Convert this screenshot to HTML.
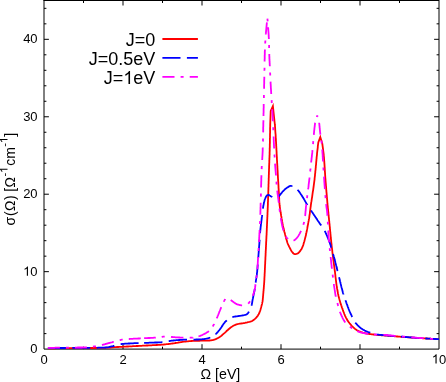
<!DOCTYPE html>
<html><head><meta charset="utf-8"><title>plot</title>
<style>
html,body{margin:0;padding:0;background:#fff;}
body{width:446px;height:382px;overflow:hidden;font-family:"Liberation Sans",sans-serif;}
svg{display:block;will-change:transform;font-family:"Liberation Sans",sans-serif;}
.tk,.lg{filter:grayscale(1);}
.tk text{font-size:13px;fill:#000;}
.lg text{font-size:18px;fill:#000;}
.g1{fill:#000;stroke:none;}
.ax path{stroke:#000;stroke-width:1;fill:none;}
.cv path{fill:none;stroke-width:1.8;stroke-linejoin:miter;stroke-miterlimit:12;stroke-linecap:butt;}
</style></head><body>
<svg width="446" height="382" viewBox="0 0 446 382">
<rect width="446" height="382" fill="#fff"/>
<g class="ax">
<path d="M44.00 0V349.10H439.00V0"/>
<rect x="43.5" y="0" width="395.5" height="1" fill="#000" stroke="none"/>
<path d="M83.50 349.10V346.70M83.50 0.60V3.00M123.00 349.10V344.20M123.00 0.60V5.50M162.50 349.10V346.70M162.50 0.60V3.00M202.00 349.10V344.20M202.00 0.60V5.50M241.50 349.10V346.70M241.50 0.60V3.00M281.00 349.10V344.20M281.00 0.60V5.50M320.50 349.10V346.70M320.50 0.60V3.00M360.00 349.10V344.20M360.00 0.60V5.50M399.50 349.10V346.70M399.50 0.60V3.00M44.00 333.61H46.40M439.00 333.61H436.60M44.00 318.12H46.40M439.00 318.12H436.60M44.00 302.63H46.40M439.00 302.63H436.60M44.00 287.14H46.40M439.00 287.14H436.60M44.00 271.66H48.90M439.00 271.66H434.10M44.00 256.17H46.40M439.00 256.17H436.60M44.00 240.68H46.40M439.00 240.68H436.60M44.00 225.19H46.40M439.00 225.19H436.60M44.00 209.70H46.40M439.00 209.70H436.60M44.00 194.21H48.90M439.00 194.21H434.10M44.00 178.72H46.40M439.00 178.72H436.60M44.00 163.23H46.40M439.00 163.23H436.60M44.00 147.74H46.40M439.00 147.74H436.60M44.00 132.26H46.40M439.00 132.26H436.60M44.00 116.77H48.90M439.00 116.77H434.10M44.00 101.28H46.40M439.00 101.28H436.60M44.00 85.79H46.40M439.00 85.79H436.60M44.00 70.30H46.40M439.00 70.30H436.60M44.00 54.81H46.40M439.00 54.81H436.60M44.00 39.32H48.90M439.00 39.32H434.10M44.00 23.83H46.40M439.00 23.83H436.60M44.00 8.34H46.40M439.00 8.34H436.60"/>
</g>
<g class="tk">
<text x="44.00" y="363.6" text-anchor="middle">0</text>
<text x="123.00" y="363.6" text-anchor="middle">2</text>
<text x="202.00" y="363.6" text-anchor="middle">4</text>
<text x="281.00" y="363.6" text-anchor="middle">6</text>
<text x="360.00" y="363.6" text-anchor="middle">8</text>
<path class="g1" transform="translate(431.77 363.60) scale(0.00635 -0.00635)" d="M763 0H583V1147Q518 1085 412.5 1023Q307 961 223 930V1104Q374 1175 487 1276Q600 1377 647 1472H763Z"/>
<text x="439.00" y="363.6">0</text>
<text x="37.6" y="353.20" text-anchor="end">0</text>
<text x="37.6" y="198.31" text-anchor="end">20</text>
<text x="37.6" y="120.87" text-anchor="end">30</text>
<text x="37.6" y="43.42" text-anchor="end">40</text>
<path class="g1" transform="translate(23.13 275.76) scale(0.00635 -0.00635)" d="M763 0H583V1147Q518 1085 412.5 1023Q307 961 223 930V1104Q374 1175 487 1276Q600 1377 647 1472H763Z"/>
<text x="37.6" y="275.76" text-anchor="end">0</text>
<text x="200.5" y="378.5" style="font-size:14.2px">&#937; [eV]</text>
<g transform="translate(14.5 225.5) rotate(-90)">
<text x="0.00" y="0.00" style="font-size:14px">&#963;</text>
<text x="9.55" y="0.00" style="font-size:14px">(</text>
<text x="14.50" y="0.00" style="font-size:14px">&#937;</text>
<text x="25.60" y="0.00" style="font-size:14px">)</text>
<text x="33.65" y="0.00" style="font-size:14px">[</text>
<text x="38.00" y="0.00" style="font-size:14px">&#937;</text>
<text x="49.00" y="-7.00" style="font-size:11px">-</text>
<path class="g1" transform="translate(52.67 -7.00) scale(0.00537 -0.00537)" d="M763 0H583V1147Q518 1085 412.5 1023Q307 961 223 930V1104Q374 1175 487 1276Q600 1377 647 1472H763Z"/>
<text x="59.80" y="0.00" style="font-size:14px">cm</text>
<text x="78.70" y="-7.00" style="font-size:11px">-</text>
<path class="g1" transform="translate(82.37 -7.00) scale(0.00537 -0.00537)" d="M763 0H583V1147Q518 1085 412.5 1023Q307 961 223 930V1104Q374 1175 487 1276Q600 1377 647 1472H763Z"/>
<text x="88.70" y="0.00" style="font-size:14px">]</text>
</g>
</g>
<g class="lg">
<text x="155.4" y="45.9" text-anchor="end">J=0</text>
<text x="155.4" y="64.9" text-anchor="end">J=0.5eV</text>
<text x="155.4" y="83.9" text-anchor="end">eV</text><text x="123.35" y="83.9" text-anchor="end">J=</text><path class="g1" transform="translate(123.35 83.90) scale(0.00879 -0.00879)" d="M763 0H583V1147Q518 1085 412.5 1023Q307 961 223 930V1104Q374 1175 487 1276Q600 1377 647 1472H763Z"/>
</g>
<g class="cv">
<path stroke="#ff0000" d="M162.4 39H197.9"/>
<path stroke="#0000ff" d="M162.4 57.9H180.5M186.9 57.9H197.9"/>
<path stroke="#ff00ff" d="M162.4 76.9H174.5M180.6 76.9H183.6M189.7 76.9H197.9"/>
<path stroke="#ff0000" d="M47.9 348.3 48.6 348.3 49.3 348.3 50.1 348.3 50.9 348.3 51.7 348.3 52.4 348.3 53.1 348.3 53.9 348.3 54.7 348.3 55.5 348.3 56.2 348.2 57.0 348.2 57.7 348.2 58.5 348.2 59.2 348.2 60.0 348.2 60.8 348.2 61.6 348.2 62.5 348.2 63.3 348.2 64.2 348.2 65.0 348.2 65.9 348.2 66.6 348.2 67.3 348.2 68.0 348.2 68.7 348.2 69.4 348.2 70.2 348.2 70.9 348.2 71.6 348.2 72.3 348.2 73.1 348.1 73.8 348.1 74.5 348.1 75.2 348.1 76.0 348.1 76.7 348.1 77.4 348.1 78.2 348.1 78.9 348.1 79.6 348.1 80.3 348.1 81.0 348.1 81.8 348.1 82.5 348.1 83.2 348.1 84.0 348.1 84.9 348.1 85.8 348.1 86.6 348.1 87.4 348.0 88.3 348.0 89.1 348.0 89.9 348.0 90.7 348.0 91.4 348.0 92.2 348.0 92.9 348.0 93.7 348.0 94.4 348.0 95.2 348.0 96.0 348.0 96.8 347.9 97.5 347.9 98.2 347.9 99.0 347.9 99.7 347.9 100.6 347.9 101.5 347.9 102.4 347.9 103.2 347.8 103.9 347.8 104.6 347.8 105.5 347.8 106.3 347.7 107.0 347.7 107.8 347.7 108.6 347.6 109.3 347.6 110.1 347.5 110.8 347.5 111.6 347.4 112.3 347.3 113.1 347.3 113.9 347.2 114.6 347.2 115.4 347.1 116.2 347.1 116.9 347.0 117.7 347.0 118.4 347.0 119.2 346.9 119.9 346.9 120.7 346.8 121.4 346.8 122.2 346.8 123.0 346.7 123.7 346.7 124.5 346.7 125.2 346.6 126.0 346.6 126.7 346.5 127.5 346.5 128.2 346.5 129.0 346.4 129.7 346.4 130.5 346.3 131.2 346.3 132.0 346.3 132.8 346.2 133.5 346.2 134.3 346.2 135.0 346.1 135.8 346.1 136.5 346.0 137.2 346.0 138.0 346.0 138.7 345.9 139.5 345.9 140.2 345.9 141.0 345.8 141.7 345.8 142.5 345.7 143.2 345.7 144.0 345.7 144.7 345.6 145.5 345.6 146.2 345.5 147.0 345.5 147.8 345.5 148.5 345.4 149.3 345.4 150.1 345.3 150.8 345.3 151.6 345.3 152.4 345.2 153.2 345.2 154.0 345.1 154.8 345.1 155.5 345.1 156.3 345.0 157.1 345.0 157.8 344.9 158.6 344.9 159.3 344.9 160.0 344.8 160.8 344.8 161.6 344.7 162.4 344.6 163.2 344.6 164.0 344.5 164.9 344.4 165.7 344.3 166.5 344.2 167.3 344.2 168.0 344.1 168.8 344.0 169.5 343.9 170.2 343.8 170.9 343.7 171.6 343.6 172.3 343.5 173.2 343.4 174.0 343.3 174.7 343.2 175.5 343.0 176.3 342.9 177.1 342.8 177.8 342.7 178.6 342.5 179.3 342.4 180.0 342.3 180.7 342.2 181.4 342.1 182.2 341.9 182.9 341.8 183.6 341.7 184.4 341.6 185.1 341.6 185.9 341.5 186.6 341.4 187.4 341.3 188.2 341.3 188.9 341.2 189.7 341.1 190.4 341.1 191.2 341.0 191.9 341.0 192.7 340.9 193.5 340.9 194.2 340.9 195.0 340.8 195.8 340.8 196.6 340.8 197.3 340.8 198.1 340.8 198.9 340.8 199.6 340.8 200.4 340.7 201.1 340.7 201.9 340.7 202.6 340.7 203.4 340.7 204.2 340.7 205.0 340.6 205.8 340.6 206.6 340.6 207.4 340.6 208.1 340.6 208.9 340.5 209.7 340.5 210.5 340.4 211.2 340.3 212.0 340.2 212.7 340.1 213.5 339.9 214.3 339.6 215.0 339.4 215.7 339.1 216.3 338.9 217.0 338.5 217.7 338.2 218.4 337.8 219.0 337.4 219.7 337.0 220.3 336.6 220.9 336.1 221.5 335.7 222.0 335.2 222.6 334.7 223.2 334.1 223.8 333.6 224.4 333.1 225.0 332.6 225.5 332.1 226.1 331.6 226.6 331.0 227.2 330.5 227.8 330.0 228.3 329.5 228.9 329.0 229.5 328.5 230.1 328.0 230.7 327.5 231.4 327.1 232.0 326.6 232.6 326.2 233.3 325.8 233.9 325.5 234.6 325.2 235.3 324.9 235.9 324.6 236.6 324.4 237.3 324.2 238.1 324.0 238.9 323.8 239.7 323.7 240.4 323.6 241.1 323.5 241.9 323.4 242.7 323.3 243.4 323.2 244.2 323.1 245.0 322.9 245.7 322.7 246.5 322.6 247.3 322.4 248.0 322.2 248.8 322.0 249.6 321.8 250.3 321.6 251.0 321.4 251.8 321.1 252.5 320.8 253.2 320.3 253.9 319.9 254.4 319.4 255.0 318.9 255.5 318.4 256.0 317.9 256.5 317.3 257.0 316.7 257.5 316.1 257.9 315.5 258.3 314.8 258.7 314.2 259.0 313.5 259.4 312.8 259.6 312.1 259.9 311.4 260.2 310.6 260.4 310.0 260.6 309.2 260.8 308.5 261.0 307.8 261.2 307.0 261.4 306.3 261.6 305.5 261.8 304.7 262.0 304.0 262.2 303.2 262.3 302.4 262.5 301.7 262.6 301.0 262.7 300.2 262.8 299.5 262.8 298.8 262.9 298.1 263.0 297.3 263.0 296.6 263.1 295.8 263.2 295.0 263.2 294.2 263.3 293.4 263.4 292.7 263.4 291.9 263.5 291.2 263.6 290.4 263.6 289.7 263.7 288.9 263.8 288.1 263.8 287.3 263.9 286.6 263.9 285.8 264.0 285.0 264.1 284.3 264.1 283.5 264.2 282.8 264.2 282.0 264.3 281.2 264.3 280.5 264.4 279.6 264.4 278.8 264.4 278.1 264.5 277.3 264.5 276.5 264.6 275.8 264.6 275.0 264.6 274.2 264.7 273.4 264.7 272.7 264.8 271.9 264.8 271.1 264.8 270.3 264.9 269.6 264.9 268.9 264.9 268.1 265.0 267.4 265.0 266.6 265.0 265.8 265.1 265.0 265.1 264.2 265.2 263.4 265.2 262.6 265.2 261.8 265.3 261.0 265.3 260.2 265.4 259.3 265.4 258.5 265.4 257.7 265.5 256.8 265.5 256.0 265.6 255.2 265.6 254.4 265.6 253.6 265.7 252.8 265.7 252.0 265.7 251.2 265.8 250.5 265.8 249.7 265.9 248.9 265.9 248.2 265.9 247.4 266.0 246.7 266.0 245.9 266.0 245.2 266.1 244.4 266.1 243.7 266.1 242.9 266.2 242.1 266.2 241.4 266.3 240.6 266.3 239.9 266.3 239.1 266.4 238.3 266.4 237.6 266.4 236.8 266.5 236.1 266.5 235.3 266.6 234.6 266.6 233.8 266.6 233.1 266.7 232.3 266.7 231.6 266.7 230.8 266.8 230.1 266.8 229.3 266.8 228.6 266.9 227.8 266.9 227.1 266.9 226.3 267.0 225.6 267.0 224.8 267.0 224.1 267.1 223.3 267.1 222.6 267.1 221.9 267.2 221.1 267.2 220.4 267.2 219.7 267.3 219.0 267.3 218.2 267.3 217.5 267.4 216.8 267.4 216.1 267.4 215.4 267.5 214.7 267.5 213.9 267.5 213.2 267.5 212.5 267.6 211.8 267.6 211.1 267.6 210.3 267.7 209.6 267.7 208.8 267.7 208.1 267.8 207.3 267.8 206.5 267.8 205.8 267.9 205.0 267.9 204.2 267.9 203.4 267.9 202.5 268.0 201.7 268.0 200.9 268.0 200.1 268.1 199.2 268.1 198.5 268.1 197.8 268.1 197.1 268.2 196.3 268.2 195.6 268.2 194.8 268.2 194.0 268.3 193.3 268.3 192.5 268.3 191.7 268.3 190.9 268.4 190.1 268.4 189.3 268.4 188.5 268.4 187.7 268.5 186.9 268.5 186.1 268.5 185.2 268.5 184.4 268.6 183.6 268.6 182.8 268.6 182.0 268.6 181.2 268.7 180.5 268.7 179.7 268.7 178.9 268.7 178.1 268.8 177.4 268.8 176.6 268.8 175.9 268.8 175.1 268.9 174.4 268.9 173.7 268.9 172.9 268.9 172.1 269.0 171.3 269.0 170.5 269.0 169.6 269.0 168.9 269.1 168.2 269.1 167.5 269.1 166.6 269.1 165.8 269.2 165.0 269.2 164.2 269.2 163.5 269.3 162.8 269.3 162.0 269.3 161.3 269.3 160.5 269.4 159.7 269.4 158.9 269.4 158.1 269.5 157.3 269.5 156.4 269.5 155.6 269.6 154.9 269.6 154.2 269.6 153.5 269.6 152.7 269.6 152.0 269.7 151.2 269.7 150.3 269.7 149.6 269.7 148.9 269.7 148.1 269.8 147.4 269.8 146.6 269.8 145.8 269.8 145.0 269.8 144.1 269.9 143.3 269.9 142.4 269.9 141.5 269.9 140.8 269.9 140.1 269.9 139.4 269.9 138.7 270.0 138.0 270.0 137.3 270.0 136.4 270.0 135.6 270.0 134.7 270.0 133.9 270.1 133.0 270.1 132.2 270.1 131.5 270.1 130.7 270.1 130.0 270.1 129.3 270.1 128.5 270.1 127.7 270.2 127.0 270.2 126.2 270.2 125.5 270.2 125.0 270.7 111.0 272.9 106.2 274.9 125.0 275.0 125.7 275.0 126.5 275.1 127.3 275.1 128.1 275.2 128.9 275.2 129.7 275.3 130.6 275.3 131.3 275.4 132.0 275.4 132.7 275.5 133.6 275.6 134.4 275.6 135.2 275.7 135.9 275.7 136.6 275.7 137.3 275.8 138.1 275.9 139.0 275.9 139.7 275.9 140.4 276.0 141.1 276.0 141.9 276.1 142.7 276.1 143.6 276.2 144.3 276.2 145.0 276.2 145.8 276.3 146.5 276.3 147.4 276.4 148.2 276.4 148.9 276.4 149.6 276.5 150.3 276.5 151.1 276.6 151.8 276.6 152.6 276.6 153.4 276.7 154.2 276.7 155.0 276.8 155.8 276.8 156.6 276.9 157.4 276.9 158.2 276.9 159.0 277.0 159.8 277.0 160.6 277.1 161.3 277.1 162.0 277.1 162.7 277.2 163.4 277.2 164.2 277.3 164.9 277.3 165.7 277.4 166.4 277.4 167.2 277.4 168.0 277.5 168.7 277.5 169.5 277.6 170.3 277.6 171.0 277.7 171.8 277.7 172.6 277.7 173.3 277.8 174.1 277.8 174.9 277.9 175.6 277.9 176.4 277.9 177.1 278.0 177.9 278.0 178.6 278.1 179.4 278.1 180.2 278.2 181.0 278.2 181.8 278.3 182.6 278.3 183.4 278.4 184.2 278.4 185.0 278.5 185.8 278.5 186.6 278.5 187.4 278.6 188.2 278.6 188.9 278.7 189.7 278.7 190.4 278.8 191.2 278.8 191.9 278.9 192.7 278.9 193.5 279.0 194.3 279.0 195.0 279.0 195.8 279.1 196.5 279.1 197.4 279.2 198.2 279.2 198.9 279.2 199.6 279.2 200.4 279.3 201.2 279.3 202.0 279.4 202.8 279.5 203.6 279.5 204.3 279.6 205.1 279.7 206.0 279.8 206.7 279.9 207.5 280.0 208.2 280.1 209.0 280.2 209.8 280.4 210.6 280.5 211.4 280.6 212.2 280.7 213.0 280.9 213.8 281.0 214.5 281.1 215.3 281.2 216.0 281.4 216.7 281.5 217.5 281.6 218.3 281.7 219.0 281.9 219.9 282.0 220.7 282.1 221.4 282.3 222.1 282.4 222.9 282.5 223.6 282.7 224.4 282.8 225.2 283.0 226.0 283.2 226.8 283.3 227.6 283.5 228.3 283.7 229.1 283.9 229.8 284.1 230.5 284.2 231.2 284.4 231.9 284.6 232.6 284.8 233.3 285.0 234.1 285.2 234.9 285.4 235.6 285.6 236.4 285.8 237.1 286.0 237.8 286.1 238.5 286.3 239.2 286.6 239.9 286.8 240.6 287.0 241.3 287.2 242.0 287.4 242.7 287.7 243.5 288.0 244.2 288.3 244.9 288.7 245.6 289.0 246.4 289.4 247.1 289.8 247.8 290.1 248.6 290.5 249.2 290.8 249.9 291.2 250.5 291.6 251.2 292.0 251.8 292.5 252.5 293.0 253.0 293.5 253.5 294.2 253.9 294.8 254.2 295.5 254.2 296.3 254.0 297.1 253.7 297.8 253.4 298.4 253.0 299.0 252.5 299.4 251.9 299.9 251.3 300.4 250.7 300.8 250.1 301.2 249.4 301.7 248.7 302.0 248.0 302.3 247.3 302.6 246.6 302.9 245.9 303.2 245.1 303.4 244.4 303.6 243.7 303.8 243.0 304.0 242.3 304.3 241.5 304.5 240.7 304.7 239.9 304.9 239.1 305.1 238.3 305.3 237.5 305.5 236.7 305.7 236.0 305.9 235.3 306.0 234.6 306.2 233.8 306.3 233.0 306.5 232.3 306.7 231.5 306.8 230.7 307.0 229.9 307.1 229.1 307.3 228.4 307.4 227.6 307.5 226.8 307.7 226.1 307.8 225.4 308.0 224.6 308.1 223.8 308.2 223.1 308.4 222.2 308.5 221.4 308.7 220.7 308.8 219.9 308.9 219.2 309.1 218.5 309.2 217.8 309.3 217.0 309.4 216.1 309.5 215.4 309.6 214.7 309.8 213.9 309.8 213.2 309.9 212.5 310.0 211.7 310.1 211.0 310.2 210.3 310.3 209.5 310.4 208.7 310.5 207.9 310.6 207.2 310.7 206.5 310.8 205.7 310.9 204.9 311.0 204.2 311.1 203.5 311.2 202.7 311.3 202.0 311.5 201.2 311.6 200.4 311.7 199.6 311.8 198.9 311.9 198.1 312.1 197.3 312.2 196.4 312.3 195.6 312.4 194.9 312.5 194.2 312.6 193.4 312.7 192.7 312.8 192.0 312.9 191.2 313.1 190.5 313.2 189.7 313.3 189.0 313.4 188.2 313.5 187.5 313.6 186.7 313.7 186.0 313.8 185.2 313.9 184.4 314.0 183.7 314.1 182.9 314.2 182.2 314.3 181.4 314.4 180.7 314.5 179.9 314.6 179.2 314.6 178.4 314.7 177.7 314.8 176.9 314.9 176.1 315.0 175.4 315.0 174.6 315.1 173.9 315.2 173.1 315.3 172.4 315.3 171.6 315.4 170.9 315.5 170.2 315.6 169.4 315.6 168.7 315.7 168.0 315.8 167.2 315.8 166.4 315.9 165.7 316.0 164.9 316.1 164.2 316.1 163.5 316.2 162.7 316.2 162.0 316.3 161.3 316.4 160.6 316.4 159.8 316.5 159.1 316.6 158.3 316.6 157.6 316.7 156.8 316.8 156.0 316.9 155.3 317.0 154.5 317.0 153.7 317.1 152.9 317.2 152.0 317.3 151.1 317.4 150.4 317.5 149.7 317.6 148.9 317.7 148.0 317.8 147.2 317.8 146.4 317.9 145.6 318.0 144.9 318.1 144.1 318.2 143.4 318.3 142.6 318.3 142.4 320.3 137.1 322.3 143.6 322.4 144.4 322.5 145.1 322.6 145.9 322.7 146.6 322.8 147.4 322.9 148.2 323.0 148.9 323.1 149.7 323.2 150.6 323.3 151.4 323.4 152.2 323.5 152.9 323.6 153.6 323.7 154.4 323.7 155.2 323.8 156.0 323.9 156.8 324.0 157.6 324.0 158.4 324.1 159.1 324.1 159.9 324.2 160.7 324.3 161.6 324.3 162.3 324.4 163.0 324.4 163.7 324.5 164.5 324.5 165.2 324.6 166.0 324.6 166.8 324.7 167.5 324.7 168.3 324.8 169.1 324.8 169.9 324.9 170.7 324.9 171.5 325.0 172.3 325.0 173.1 325.1 173.9 325.1 174.7 325.2 175.5 325.2 176.3 325.3 177.1 325.3 177.9 325.4 178.7 325.5 179.5 325.5 180.3 325.6 181.0 325.6 181.7 325.7 182.5 325.8 183.2 325.8 184.0 325.9 184.7 325.9 185.5 326.0 186.2 326.1 187.0 326.1 187.8 326.2 188.5 326.2 189.3 326.3 190.1 326.4 190.9 326.4 191.6 326.5 192.4 326.6 193.2 326.6 193.9 326.7 194.7 326.8 195.5 326.8 196.2 326.9 197.0 327.0 197.7 327.0 198.5 327.1 199.2 327.2 200.0 327.2 200.7 327.3 201.5 327.3 202.2 327.4 202.9 327.5 203.6 327.5 204.3 327.6 205.2 327.7 206.0 327.8 206.8 327.8 207.6 327.9 208.4 328.0 209.1 328.1 209.9 328.1 210.7 328.2 211.4 328.3 212.2 328.4 212.9 328.4 213.7 328.5 214.4 328.6 215.2 328.7 215.9 328.7 216.6 328.8 217.4 328.9 218.1 329.0 218.8 329.0 219.5 329.1 220.3 329.2 221.0 329.3 221.7 329.3 222.5 329.4 223.2 329.5 223.9 329.6 224.7 329.6 225.4 329.7 226.1 329.8 226.9 329.9 227.6 329.9 228.4 330.0 229.1 330.1 229.9 330.1 230.6 330.2 231.3 330.3 232.1 330.4 232.8 330.4 233.5 330.5 234.3 330.6 235.0 330.6 235.7 330.7 236.5 330.8 237.2 330.9 237.9 330.9 238.7 331.0 239.4 331.1 240.2 331.2 240.9 331.2 241.7 331.3 242.4 331.4 243.2 331.5 244.0 331.6 244.7 331.6 245.5 331.7 246.3 331.8 247.0 331.9 247.8 332.0 248.5 332.1 249.2 332.2 250.0 332.3 250.7 332.3 251.5 332.4 252.3 332.5 253.1 332.6 253.9 332.7 254.6 332.8 255.4 332.9 256.2 333.0 257.0 333.1 257.8 333.2 258.6 333.3 259.4 333.4 260.2 333.5 261.0 333.6 261.7 333.7 262.5 333.8 263.3 333.9 264.0 334.0 264.7 334.1 265.5 334.2 266.2 334.3 266.9 334.4 267.7 334.5 268.5 334.6 269.3 334.7 270.0 334.8 270.8 334.9 271.5 335.0 272.2 335.1 273.1 335.2 273.9 335.3 274.7 335.4 275.5 335.4 276.2 335.5 277.0 335.6 277.7 335.7 278.4 335.8 279.2 335.9 280.0 336.0 280.8 336.1 281.6 336.2 282.4 336.3 283.2 336.4 284.1 336.5 284.8 336.6 285.6 336.8 286.4 336.9 287.1 337.0 287.9 337.1 288.7 337.3 289.5 337.4 290.2 337.5 291.0 337.7 291.7 337.8 292.4 337.9 293.2 338.1 293.9 338.2 294.6 338.4 295.3 338.5 296.0 338.7 296.7 338.9 297.4 339.1 298.2 339.3 298.9 339.5 299.7 339.7 300.4 339.9 301.1 340.1 301.8 340.3 302.5 340.5 303.2 340.7 303.9 341.0 304.6 341.2 305.3 341.5 306.0 341.7 306.7 341.9 307.5 342.2 308.2 342.5 308.9 342.7 309.6 343.0 310.3 343.2 311.1 343.5 311.8 343.8 312.5 344.1 313.3 344.3 314.0 344.6 314.7 344.9 315.4 345.2 316.1 345.5 316.7 345.8 317.4 346.2 318.1 346.6 318.8 347.0 319.5 347.4 320.2 347.8 320.9 348.3 321.5 348.7 322.1 349.2 322.7 349.6 323.3 350.1 323.9 350.5 324.4 351.0 325.0 351.5 325.5 352.0 326.1 352.6 326.6 353.1 327.2 353.7 327.7 354.2 328.2 354.8 328.7 355.4 329.1 356.0 329.6 356.6 330.0 357.3 330.4 358.0 330.7 358.6 331.1 359.2 331.3 359.9 331.6 360.6 331.9 361.3 332.1 362.0 332.3 362.7 332.6 363.5 332.8 364.2 333.0 365.0 333.1 365.8 333.3 366.5 333.5 367.2 333.6 367.9 333.8 368.7 333.9 369.4 334.0 370.2 334.1 370.9 334.2 371.7 334.3 372.5 334.4 373.3 334.5 374.0 334.5 374.8 334.6 375.6 334.7 376.3 334.8 377.1 334.9 377.8 334.9 378.6 335.0 379.3 335.1 380.0 335.1 380.7 335.2 381.4 335.3 382.2 335.3 382.9 335.4 383.7 335.4 384.4 335.5 385.2 335.6 386.0 335.6 386.8 335.7 387.5 335.7 388.4 335.8 389.2 335.9 390.0 335.9 390.8 336.0 391.6 336.1 392.3 336.1 393.1 336.2 393.8 336.2 394.5 336.3 395.3 336.4 396.1 336.4 396.9 336.5 397.8 336.5 398.5 336.6 399.2 336.6 400.0 336.7 400.8 336.8 401.5 336.8 402.4 336.9 403.2 336.9 403.9 337.0 404.6 337.0 405.4 337.1 406.1 337.1 406.9 337.2 407.7 337.3 408.4 337.3 409.2 337.4 410.0 337.4 410.8 337.5 411.6 337.5 412.4 337.6 413.2 337.6 414.0 337.7 414.8 337.8 415.6 337.8 416.4 337.9 417.1 337.9 417.9 338.0 418.7 338.0 419.4 338.1 420.2 338.1 420.9 338.2 421.8 338.2 422.6 338.3 423.4 338.3 424.3 338.4 425.2 338.4 425.9 338.5 426.6 338.5 427.3 338.5 428.0 338.6 428.7 338.6 429.6 338.7 430.4 338.7 431.3 338.8 432.1 338.8 432.9 338.9 433.7 338.9 434.4 338.9 435.1 339.0 435.9 339.0 436.7 339.1 437.4 339.1 438.1 339.2 438.8 339.2 439.0 339.2"/>
<path stroke="#0000ff" d="M47.9 348.0 48.5 348.0 49.2 348.0 49.8 348.0 50.4 348.0 51.1 348.0 51.8 348.0 52.4 348.0 53.0 348.0 53.7 348.0 54.3 348.0 55.0 348.0 55.7 348.0 56.4 348.0 57.2 348.0 57.8 348.0 58.4 348.0 59.0 348.0 59.7 348.0 60.3 348.0 61.0 348.0 61.6 348.0 62.3 348.0 63.0 348.0 63.6 348.0 64.3 348.0 65.0 348.0 65.7 348.0 65.9 348.0M72.3 347.9 72.9 347.9 73.7 347.9 74.4 347.9 75.1 347.9 75.9 347.9 76.6 347.9 77.3 347.9 78.1 347.9 78.8 347.9 79.5 347.9 80.2 347.9 81.0 347.9 81.7 347.9 82.4 347.9 83.1 347.9 83.8 347.9 84.5 347.9 85.2 347.9 85.9 347.9 86.6 347.9 87.2 347.9 87.9 347.9 88.5 347.9 89.2 347.8 89.8 347.8 90.3 347.8M96.6 347.8 97.3 347.8 97.9 347.7 98.6 347.7 99.2 347.7 99.9 347.7 100.8 347.7 101.5 347.7 102.2 347.6 102.9 347.6 103.5 347.6 104.3 347.6 105.0 347.5 105.7 347.5 106.5 347.4 107.1 347.4 107.8 347.3 108.5 347.2 109.1 347.1 109.7 346.9 110.3 346.7 110.9 346.6 111.6 346.4 112.3 346.3 113.0 346.2 113.6 346.0 114.2 345.9 114.4 345.8M120.6 344.2 121.2 344.1 121.8 344.0 122.4 343.9 123.0 343.9 123.6 343.8 124.2 343.8 124.8 343.7 125.4 343.7 126.0 343.7 126.6 343.6 127.2 343.6 127.8 343.6 128.4 343.5 129.0 343.5 129.7 343.5 130.4 343.4 131.2 343.4 131.9 343.3 132.6 343.3 133.3 343.3 134.0 343.2 134.7 343.2 135.3 343.2 136.0 343.2 136.6 343.1 137.3 343.1 138.0 343.1 138.6 343.1M144.1 342.9 144.7 342.9 145.4 342.9 146.0 342.8 146.6 342.8 147.3 342.8 147.9 342.8 148.5 342.8 149.1 342.7 149.7 342.7 150.3 342.7 150.9 342.7 151.6 342.6 152.2 342.6 152.8 342.6 153.5 342.6 154.1 342.6 154.8 342.5 155.4 342.5 156.1 342.5 156.7 342.5 157.3 342.5 157.9 342.4 158.5 342.4 159.3 342.4 160.0 342.3 160.6 342.3 161.3 342.3 161.9 342.2 162.4 342.2M168.7 341.1 169.5 341.0 170.1 340.9 170.8 340.8 171.5 340.7 172.2 340.6 172.8 340.6 173.5 340.5 174.2 340.4 174.9 340.4 175.6 340.3 176.3 340.2 177.0 340.2 177.6 340.1 178.2 340.1 178.9 340.0 179.5 340.0 180.1 339.9 180.8 339.9 181.4 339.8 182.0 339.8 182.7 339.8 183.3 339.7 183.9 339.7 184.5 339.7 185.1 339.7 185.7 339.6 186.3 339.6 186.9 339.6 187.0 339.6M193.5 339.6 194.1 339.6 194.7 339.6 195.3 339.6 196.0 339.5 196.6 339.5 197.2 339.5 197.9 339.5 198.5 339.5 199.1 339.4 199.7 339.4 200.3 339.4 201.1 339.3 201.8 339.3 202.4 339.2 203.1 339.2 203.7 339.1 204.4 339.0 205.0 338.9 205.6 338.8 206.4 338.7 207.1 338.6 207.8 338.4 208.5 338.2 209.2 338.0 209.7 337.7 210.3 337.5 210.3 337.5M215.4 334.3 216.0 333.9 216.5 333.4 217.0 332.9 217.4 332.3 217.9 331.8 218.3 331.3 218.7 330.8 219.2 330.3 219.6 329.7 220.0 329.2 220.4 328.6 220.9 328.0 221.2 327.5 221.6 327.0 221.9 326.4 222.3 325.9 222.6 325.3 223.0 324.8 223.3 324.3 223.7 323.7 224.1 323.2 224.4 322.8 224.9 322.2 225.4 321.7 225.9 321.2 226.4 320.8 226.8 320.4M232.3 317.2 232.9 317.0 233.5 316.8 234.1 316.7 234.7 316.6 235.3 316.5 235.9 316.4 236.5 316.4 237.1 316.3 237.7 316.2 238.3 316.2 238.9 316.0 239.5 315.9 240.1 315.8 240.8 315.7 241.4 315.6 242.1 315.5 242.7 315.4 243.3 315.3 244.0 315.2 244.7 315.0 245.3 314.8 246.0 314.6 246.6 314.4 247.1 314.1 247.6 313.6 248.1 313.0 248.4 312.4 248.8 311.9 248.9 311.7M251.4 305.8 251.6 305.2 251.8 304.5 251.9 303.8 252.1 303.1 252.2 302.3 252.3 301.6 252.4 301.0 252.5 300.4 252.6 299.8 252.7 299.1 252.9 298.5 253.0 297.8 253.2 297.1 253.3 296.3 253.5 295.6 253.6 295.0 253.7 294.4 253.8 293.8 254.0 293.2 254.1 292.6 254.2 292.0 254.4 291.3 254.5 290.7 254.6 290.1 254.7 289.5 254.8 288.9 254.8 288.7M255.7 282.6 255.8 282.0 255.8 281.4 255.9 280.8 256.0 280.2 256.1 279.6 256.2 278.8 256.3 278.2 256.4 277.5 256.5 276.9 256.6 276.3 256.7 275.6 256.8 275.0 256.9 274.3 256.9 273.6 257.0 272.9 257.1 272.3 257.2 271.6 257.2 270.8 257.3 270.0 257.4 269.4 257.4 268.7 257.5 268.1 257.5 267.4 257.6 266.8 257.6 266.1 257.7 265.3 257.8 264.6 257.8 264.4M258.3 258.0 258.3 257.2 258.4 256.5 258.4 255.8 258.5 255.1 258.5 254.4 258.6 253.8 258.6 253.1 258.7 252.4 258.7 251.7 258.8 251.1 258.8 250.4 258.9 249.8 258.9 249.1 259.0 248.5 259.0 247.9 259.1 247.3 259.1 246.6 259.2 245.9 259.2 245.2 259.3 244.5 259.3 243.9 259.4 243.2 259.4 242.5 259.5 241.9 259.5 241.2 259.6 240.6 259.6 239.9 259.6 239.7M260.1 233.3 260.1 232.6 260.2 231.9 260.2 231.2 260.3 230.6 260.4 229.9 260.4 229.1 260.5 228.5 260.6 227.9 260.6 227.3 260.7 226.7 260.8 226.0 260.9 225.4 260.9 224.8 261.0 224.1 261.1 223.5 261.2 222.9 261.3 222.3 261.3 221.6 261.4 221.0 261.5 220.4 261.6 219.7 261.7 219.0 261.7 218.3 261.8 217.6 261.9 217.0 262.0 216.3 262.1 215.6 262.1 215.1M262.9 208.7 263.0 208.0 263.1 207.3 263.2 206.7 263.3 206.0 263.4 205.4 263.6 204.8 263.7 204.2 263.8 203.6 263.9 202.8 264.1 202.1 264.3 201.5 264.4 200.8 264.6 200.2 264.8 199.5 265.1 198.8 265.3 198.2 265.6 197.7 265.9 197.0 266.2 196.5 266.6 195.8 267.1 195.3 267.7 195.0 268.4 194.9 269.1 195.1 269.6 195.5 270.2 195.8 270.7 196.2 271.3 196.5 271.8 196.8 272.3 197.1M278.7 196.4 279.2 195.9 279.6 195.4 280.0 194.9 280.4 194.4 280.8 193.9 281.2 193.3 281.7 192.8 282.1 192.3 282.5 191.8 282.9 191.3 283.4 190.8 283.9 190.3 284.4 189.9 284.8 189.4 285.3 189.0 285.8 188.6 286.3 188.2 286.9 187.8 287.4 187.4 288.0 187.1 288.6 186.7 289.1 186.4 289.7 186.1 290.3 185.9 291.1 185.8 291.7 186.0 292.3 186.2 292.4 186.2M297.5 189.8 298.0 190.3 298.4 190.8 298.9 191.4 299.3 191.9 299.7 192.5 300.2 193.1 300.5 193.6 300.8 194.2 301.2 194.7 301.6 195.2 301.9 195.8 302.3 196.4 302.7 197.0 303.0 197.6 303.4 198.2 303.8 198.8 304.1 199.4 304.4 199.9 304.7 200.4 305.0 201.0 305.4 201.5 305.7 202.1 306.0 202.6 306.3 203.2 306.6 203.7 307.0 204.3 307.3 204.8 307.4 205.0M311.0 210.4 311.4 211.0 311.8 211.6 312.2 212.3 312.6 212.8 312.9 213.3 313.2 213.8 313.6 214.3 314.0 214.9 314.4 215.5 314.8 216.0 315.1 216.5 315.4 217.0 315.8 217.6 316.1 218.1 316.5 218.6 316.9 219.1 317.2 219.6 317.5 220.2 317.9 220.7 318.2 221.2 318.6 221.7 319.0 222.3 319.4 222.9 319.8 223.5 320.2 224.1 320.6 224.6 320.9 225.1 321.2 225.5M324.7 230.9 325.0 231.4 325.3 232.0 325.6 232.7 325.9 233.3 326.2 234.0 326.5 234.5 326.7 235.1 327.0 235.7 327.2 236.2 327.4 236.8 327.7 237.4 327.9 238.0 328.2 238.6 328.4 239.2 328.6 239.8 328.8 240.3 329.0 240.9 329.3 241.5 329.5 242.2 329.8 242.9 330.0 243.5 330.2 244.1 330.4 244.7 330.6 245.3 330.8 245.9 330.9 246.5 331.1 247.2 331.3 247.8 331.3 247.8M333.0 254.0 333.3 254.7 333.4 255.3 333.6 255.9 333.8 256.6 334.0 257.2 334.2 257.9 334.4 258.5 334.6 259.2 334.7 259.8 334.9 260.5 335.1 261.2 335.2 261.8 335.4 262.4 335.5 263.0 335.7 263.7 335.9 264.4 336.1 265.1 336.2 265.7 336.4 266.3 336.5 266.9 336.7 267.5 336.8 268.1 337.0 268.8 337.1 269.4 337.3 270.0 337.4 270.7 337.5 271.1M339.0 277.2 339.2 277.8 339.3 278.4 339.5 279.0 339.6 279.6 339.8 280.2 340.0 280.9 340.1 281.5 340.3 282.1 340.4 282.8 340.6 283.4 340.7 284.0 340.9 284.7 341.0 285.3 341.2 285.9 341.3 286.5 341.5 287.1 341.6 287.7 341.8 288.3 342.0 289.0 342.2 289.7 342.3 290.4 342.5 291.0 342.7 291.7 342.8 292.2 343.0 292.9 343.2 293.6 343.4 294.1 343.4 294.4M345.5 300.3 345.7 300.9 346.0 301.6 346.2 302.3 346.4 302.9 346.6 303.5 346.8 304.1 347.1 304.7 347.3 305.3 347.5 305.9 347.7 306.5 347.9 307.1 348.2 307.7 348.4 308.3 348.6 309.0 348.9 309.7 349.2 310.3 349.4 310.9 349.7 311.6 350.0 312.2 350.2 312.8 350.5 313.3 350.8 314.0 351.1 314.6 351.4 315.2 351.7 315.9 352.0 316.5 352.3 317.0M355.3 322.6 355.7 323.1 356.1 323.5 356.5 324.0 356.9 324.5 357.3 324.9 357.7 325.4 358.2 325.8 358.6 326.2 359.1 326.7 359.7 327.2 360.2 327.6 360.7 328.0 361.2 328.4 361.7 328.7 362.2 329.1 362.7 329.4 363.4 329.8 364.0 330.1 364.6 330.5 365.3 330.8 365.9 331.1 366.6 331.4 367.2 331.7 367.9 332.0 368.5 332.2 369.2 332.4 369.9 332.6 370.2 332.8M376.5 334.4 377.1 334.5 377.8 334.6 378.5 334.6 379.1 334.7 379.8 334.8 380.4 334.8 381.1 334.9 381.9 335.0 382.6 335.1 383.2 335.1 383.8 335.2 384.5 335.2 385.1 335.3 385.7 335.3 386.4 335.4 387.0 335.4 387.7 335.5 388.4 335.6 389.0 335.6 389.7 335.7 390.4 335.7 391.0 335.8 391.7 335.8 392.4 335.9 393.0 335.9 393.7 336.0 394.4 336.0 394.5 336.1M400.9 336.6 401.6 336.6 402.3 336.7 402.9 336.7 403.5 336.8 404.1 336.9 404.8 336.9 405.4 337.0 406.0 337.0 406.6 337.1 407.2 337.1 407.8 337.2 408.4 337.2 409.0 337.3 409.8 337.3 410.5 337.4 411.2 337.4 412.0 337.5 412.7 337.6 413.4 337.6 414.2 337.7 414.9 337.7 415.6 337.8 416.4 337.8 417.1 337.9 417.8 337.9 418.5 338.0 418.9 338.0M425.3 338.4 426.1 338.5 426.8 338.5 427.5 338.6 428.2 338.6 428.9 338.6 429.6 338.7 430.2 338.7 430.9 338.8 431.6 338.8 432.2 338.8 432.9 338.9 433.5 338.9 434.1 338.9 434.8 339.0 435.5 339.0 436.2 339.0 436.8 339.1 437.5 339.1 438.1 339.2 438.8 339.2 439.0 339.2"/>
<path stroke="#ff00ff" d="M47.9 347.8 48.6 347.8 49.2 347.8 49.9 347.8 50.6 347.8 51.2 347.8 51.8 347.8 52.5 347.8 53.2 347.8 53.9 347.8 54.5 347.8 55.2 347.7 55.8 347.7 56.5 347.7 57.1 347.7 57.8 347.7 58.5 347.7 59.2 347.7 59.9 347.7 59.9 347.7M65.9 347.7 66.7 347.7 67.4 347.7 68.1 347.6 68.9 347.6 68.9 347.6M74.9 347.6 75.6 347.6 76.3 347.6 77.0 347.6 77.7 347.5 78.3 347.5 79.0 347.5 79.7 347.5 80.3 347.5 81.1 347.5 81.9 347.5 82.6 347.4 83.2 347.4 84.0 347.4 84.7 347.4 85.3 347.4 86.0 347.3 86.6 347.3 86.9 347.3M92.9 346.6 93.6 346.5 94.2 346.4 94.4 346.4M94.4 346.4 95.0 346.3 95.6 346.2 95.9 346.1M101.9 344.9 102.5 344.8 103.1 344.6 103.8 344.5 104.4 344.3 105.0 344.2 105.6 344.0 106.2 343.9 106.8 343.7 107.4 343.5 108.0 343.4 108.6 343.2 109.2 343.0 109.8 342.9 110.5 342.7 111.2 342.5 111.9 342.3 112.5 342.1 113.2 341.9 113.8 341.8M119.7 340.1 120.3 340.0 121.1 339.8 121.2 339.8M121.2 339.8 121.8 339.7 122.5 339.6 122.7 339.6M128.8 339.0 129.4 339.0 130.0 338.9 130.7 338.9 131.4 338.8 132.1 338.8 132.8 338.8 133.5 338.7 134.3 338.7 134.9 338.7 135.5 338.6 136.1 338.6 136.8 338.6 137.4 338.6 138.1 338.5 138.8 338.5 139.4 338.5 140.1 338.4 140.8 338.4 140.8 338.4M144.1 338.2 144.8 338.2 145.4 338.2 146.0 338.1 146.7 338.1 147.3 338.1 148.0 338.0 148.7 338.0 149.3 338.0 149.9 338.0 150.6 337.9 151.2 337.9 151.8 337.9 152.5 337.8 153.2 337.8 153.9 337.7 154.6 337.7 155.3 337.7 155.8 337.6M161.7 336.9 162.3 336.8 163.0 336.7 163.1 336.7M163.1 336.7 163.8 336.7 164.5 336.6 164.7 336.6M171.0 336.9 171.7 337.0 172.3 337.0 172.9 337.1 173.5 337.1 174.1 337.2 174.7 337.2 175.3 337.3 175.9 337.3 176.5 337.3 177.1 337.4 177.7 337.4 178.3 337.4 178.9 337.5 179.5 337.5 180.1 337.6 180.7 337.6 181.3 337.6 181.9 337.6 182.5 337.7 183.1 337.7 183.4 337.7M189.7 337.7 190.4 337.7 191.1 337.6 191.3 337.6M191.3 337.6 192.0 337.6 192.7 337.6 192.7 337.5M198.5 336.3 199.1 336.2 199.7 336.0 200.3 335.8 200.9 335.5 201.4 335.3 202.0 335.1 202.6 334.8 203.1 334.5 203.7 334.3 204.3 333.9 204.9 333.7 205.4 333.4 206.1 333.0 206.7 332.6 207.3 332.2 207.8 331.9 208.3 331.5 208.8 331.1 208.9 331.0M212.7 326.4 213.1 325.8 213.4 325.3 213.5 325.1M213.5 325.1 213.8 324.6 214.1 324.1 214.2 323.9M216.7 318.3 217.0 317.7 217.3 317.1 217.5 316.5 217.7 315.9 218.0 315.3 218.3 314.6 218.5 314.0 218.8 313.4 219.0 312.9 219.2 312.3 219.4 311.7 219.7 311.1 219.9 310.5 220.1 310.0 220.4 309.4 220.6 308.8 220.8 308.3 221.1 307.6 221.3 307.2M223.8 301.7 224.0 301.1 224.4 300.5 224.5 300.4M224.5 300.4 224.8 299.8 225.2 299.2 225.3 299.0M230.7 300.0 231.3 300.4 231.8 300.8 232.3 301.2 232.8 301.6 233.3 301.9 233.8 302.3 234.4 302.7 234.9 303.0 235.4 303.4 236.0 303.7 236.7 304.1 237.3 304.3 237.9 304.6 238.5 304.7 239.2 304.9 239.9 305.1 240.5 305.2 241.1 305.3 241.8 305.4 242.1 305.4M248.1 303.7 248.7 303.1 249.1 302.7 249.2 302.5M249.2 302.5 249.6 301.9 250.0 301.3 250.0 301.3M252.8 295.8 253.0 295.2 253.2 294.6 253.5 293.9 253.7 293.2 253.9 292.6 254.1 291.9 254.3 291.2 254.5 290.6 254.6 289.9 254.7 289.3 254.9 288.6 255.0 288.0 255.1 287.3 255.2 286.5 255.3 285.9 255.4 285.3 255.4 284.7 255.5 284.2M256.3 278.2 256.4 277.5 256.6 276.9 256.6 276.7M256.6 276.7 256.7 276.0 256.8 275.4 256.8 275.2M257.4 269.2 257.4 268.5 257.5 267.8 257.5 267.1 257.5 266.5 257.6 265.8 257.6 265.2 257.7 264.5 257.7 263.8 257.8 263.1 257.8 262.3 257.8 261.7 257.9 261.1 257.9 260.5 257.9 259.9 258.0 259.2 258.0 258.6 258.1 257.9 258.1 257.3 258.1 257.1M258.5 251.0 258.5 250.4 258.5 249.7 258.6 249.0 258.6 248.3 258.6 248.1M259.0 242.0 259.0 241.4 259.0 240.7 259.1 240.1 259.1 239.4 259.2 238.8 259.2 238.2 259.2 237.5 259.3 236.9 259.3 236.2 259.3 235.5 259.4 234.8 259.4 234.1 259.4 233.4 259.5 232.7 259.5 232.1 259.6 231.5 259.6 230.8 259.6 230.1 259.6 229.9M260.0 223.9 260.0 223.2 260.0 222.5 260.1 221.9 260.1 221.3 260.1 220.9M260.3 214.8 260.3 214.0 260.4 213.4 260.4 212.7 260.4 212.0 260.4 211.3 260.4 210.6 260.5 210.0 260.5 209.4 260.5 208.8 260.5 208.1 260.5 207.4 260.6 206.8 260.6 206.1 260.6 205.3 260.6 204.6 260.6 203.9 260.7 203.2 260.7 202.7M260.8 196.7 260.9 196.0 260.9 195.3 260.9 195.2M260.9 195.2 260.9 194.5 260.9 193.8 260.9 193.6M261.1 187.5 261.1 186.8 261.1 186.2 261.1 185.5 261.1 184.8 261.2 184.2 261.2 183.5 261.2 182.9 261.2 182.2 261.2 181.6 261.3 180.9 261.3 180.3 261.3 179.7 261.3 179.0 261.3 178.4 261.3 177.8 261.4 177.1 261.4 176.3 261.4 175.6 261.4 175.2M261.6 169.1 261.7 168.4 261.7 167.8 261.7 167.0 261.8 166.3 261.8 166.0M262.2 159.9 262.2 159.2 262.3 158.5 262.3 157.8 262.3 157.2 262.4 156.5 262.4 155.9 262.5 155.2 262.5 154.5 262.5 153.9 262.6 153.3 262.6 152.6 262.6 151.9 262.7 151.2 262.7 150.4 262.7 149.8 262.7 149.2 262.7 148.5 262.8 147.9 262.8 147.6M262.9 141.5 263.0 140.8 263.0 140.1 263.0 139.9M263.0 139.9 263.0 139.2 263.0 138.5 263.0 138.4M263.1 132.4 263.2 131.7 263.2 131.0 263.2 130.4 263.2 129.7 263.2 129.1 263.2 128.5 263.2 127.8 263.2 127.2 263.3 126.5 263.3 125.9 263.3 125.2 263.3 124.6 263.3 123.9 263.3 123.3 263.3 122.7 263.4 122.0 263.4 121.4 263.4 120.7 263.4 120.3M263.5 115.9 263.5 115.3 263.5 114.7 263.5 114.0 263.5 113.3 263.6 112.5 263.6 111.8 263.6 111.0 263.6 110.4 263.6 109.8 263.6 109.2 263.6 108.6 263.7 108.0 263.7 107.4 263.7 106.7 263.7 106.1 263.7 105.5 263.7 104.9 263.7 104.2 263.7 103.9M263.9 97.9 263.9 97.2 263.9 96.5 263.9 96.4M263.9 96.4 263.9 95.7 263.9 95.1 263.9 94.9M264.1 88.8 264.1 88.2 264.1 87.6 264.1 87.0 264.1 86.2 264.1 85.5 264.1 84.7 264.2 84.0 264.2 83.3 264.2 82.6 264.2 81.9 264.2 81.2 264.2 80.5 264.2 79.8 264.3 79.1 264.3 78.4 264.3 77.8 264.3 77.1 264.3 76.8M264.4 70.7 264.4 70.1 264.5 69.4 264.5 68.8 264.5 68.1 264.5 67.7M264.6 61.6 264.6 61.0 264.6 60.3 264.6 59.6 264.7 58.8 264.7 58.1 264.7 57.4 264.7 56.7 264.7 56.1 264.7 55.4 264.8 54.7 264.8 54.1 264.8 53.4 264.8 52.8 264.8 52.1 264.8 51.5 264.9 50.9 264.9 50.2 264.9 49.6 264.9 49.6M265.2 43.5 265.2 42.9 265.3 42.2 265.3 42.0M265.3 42.0 265.3 41.4 265.4 40.7 265.4 40.5M265.8 34.5 265.8 33.8 265.9 33.2 266.9 22.4M267.4 18.6 267.7 21.4M268.1 27.3 268.2 28.6 268.2 29.2 268.3 29.8 268.3 30.4 268.4 31.1 268.4 31.8 268.5 32.4 268.5 33.0 268.6 33.7 268.6 34.4 268.7 35.1 268.7 35.8 268.7 36.5 268.8 37.2 268.8 37.9 268.9 38.7 268.9 39.0M269.1 44.9 269.1 45.5 269.1 46.2 269.1 46.3M269.1 46.3 269.1 47.0 269.1 47.6 269.1 47.9M269.3 54.0 269.3 54.6 269.3 55.3 269.3 56.0 269.4 56.7 269.4 57.3 269.4 57.9 269.4 58.6 269.5 59.3 269.5 60.0 269.5 60.6 269.6 61.3 269.6 62.0 269.6 62.7 269.7 63.4 269.7 64.1 269.7 64.7 269.8 65.4 269.8 66.1 269.8 66.3M270.1 72.5 270.1 73.1 270.2 73.7 270.2 74.4 270.2 75.0 270.2 75.5M270.5 81.7 270.6 82.3 270.6 82.9 270.6 83.7 270.7 84.4 270.7 85.1 270.8 85.8 270.8 86.5 270.8 87.3 270.9 88.0 270.9 88.7 271.0 89.5 271.0 90.2 271.1 90.9 271.1 91.7 271.1 92.3 271.2 92.9 271.2 93.5 271.2 93.9M271.6 100.1 271.7 100.8 271.7 101.4 271.7 101.6M271.7 101.6 271.7 102.3 271.8 103.0 271.8 103.1M272.2 109.2 272.2 109.9 272.3 110.6 272.3 111.3 272.4 112.0 272.4 112.7 272.5 113.5 272.5 114.2 272.5 114.8 272.6 115.4 272.6 116.1 272.7 116.7 272.7 117.4 272.7 118.0 272.8 118.7 272.8 119.4 272.8 120.1 272.9 120.8 272.9 121.2M273.2 127.3 273.2 128.0 273.3 128.8 273.3 129.5 273.3 130.1 273.3 130.3M273.6 136.4 273.6 137.1 273.7 137.7 273.7 138.4 273.7 139.0 273.7 139.7 273.8 140.3 273.8 141.0 273.8 141.6 273.8 142.3 273.9 142.9 273.9 143.6 273.9 144.2 274.0 144.9 274.0 145.5 274.0 146.1 274.0 146.8 274.1 147.4 274.1 148.0 274.1 148.4M274.4 154.5 274.5 155.2 274.5 155.8 274.5 156.0M274.5 156.0 274.6 156.7 274.6 157.5 274.6 157.5M275.0 163.6 275.1 164.3 275.1 164.9 275.2 165.6 275.2 166.2 275.3 166.8 275.3 167.5 275.4 168.1 275.4 168.7 275.5 169.3 275.5 170.0 275.6 170.8 275.7 171.5 275.7 172.2 275.8 172.8 275.8 173.5 275.9 174.1 275.9 174.8 276.0 175.4 276.0 175.6M276.4 181.7 276.5 182.3 276.5 182.9 276.5 183.6 276.6 184.3 276.6 184.6M277.2 190.7 277.3 191.4 277.4 192.0 277.5 192.6 277.5 193.2 277.6 193.8 277.7 194.4 277.8 195.1 277.9 195.7 278.0 196.4 278.0 197.0 278.1 197.6 278.2 198.3 278.3 198.9 278.4 199.5 278.5 200.2 278.5 200.8 278.6 201.4 278.7 202.0 278.8 202.6 278.8 202.7M279.5 208.7 279.6 209.4 279.6 210.1 279.7 210.2M279.7 210.2 279.7 210.8 279.8 211.4 279.9 211.8M280.8 218.1 280.9 218.7 281.0 219.4 281.1 220.0 281.2 220.7 281.4 221.3 281.5 221.9 281.6 222.6 281.7 223.2 281.9 223.8 282.0 224.5 282.1 225.1 282.2 225.7 282.4 226.3 282.5 227.0 282.7 227.7 282.9 228.3 283.0 229.0 283.2 229.6 283.3 230.2 283.4 230.5M285.8 236.4 286.2 237.0 286.6 237.6 286.7 237.7M286.7 237.7 287.2 238.2 287.7 238.6 287.8 238.8M293.5 240.6 294.1 240.3 294.7 239.9 295.2 239.5 295.7 239.1 296.2 238.6 296.7 238.1 297.2 237.5 297.6 237.0 298.0 236.5 298.4 235.9 298.7 235.3 299.1 234.6 299.4 234.1 299.7 233.6 300.0 233.0 300.3 232.4 300.6 231.8 300.9 231.2 301.1 230.8M303.3 224.8 303.5 224.2 303.7 223.6 303.8 223.3M303.8 223.3 303.9 222.7 304.1 222.1 304.1 221.9M305.1 216.0 305.2 215.4 305.3 214.7 305.3 214.1 305.4 213.5 305.4 212.9 305.5 212.3 305.5 211.6 305.6 211.0 305.7 210.4 305.7 209.7 305.8 209.1 305.8 208.5 305.9 207.8 305.9 207.2 306.0 206.6 306.0 206.0 306.1 205.4 306.2 204.6 306.2 204.1M307.0 198.2 307.1 197.5 307.1 196.9 307.2 196.3 307.3 195.6 307.4 195.2M308.1 189.3 308.2 188.6 308.3 188.0 308.4 187.3 308.5 186.5 308.6 185.8 308.6 185.1 308.7 184.4 308.8 183.6 308.9 182.9 309.0 182.2 309.1 181.4 309.2 180.7 309.2 180.1 309.3 179.5 309.4 178.9 309.5 178.3 309.5 177.6 309.5 177.5M310.2 171.5 310.3 170.8 310.3 170.2 310.4 170.0M310.4 170.0 310.4 169.4 310.5 168.8 310.5 168.5M311.2 162.4 311.2 161.7 311.3 161.0 311.4 160.4 311.5 159.8 311.5 159.0 311.6 158.3 311.7 157.6 311.8 156.9 311.9 156.2 311.9 155.6 312.0 154.9 312.1 154.1 312.2 153.4 312.2 152.8 312.3 152.2 312.4 151.5 312.4 150.8 312.5 150.2M313.0 144.1 313.1 143.5 313.1 142.8 313.2 142.2 313.2 141.5 313.3 141.1M313.8 134.9 313.9 134.3 313.9 133.6 314.0 132.9 314.1 132.1 314.1 131.4 314.2 130.6 314.3 129.9 314.4 129.2 314.4 128.5 314.5 127.8 314.6 127.2 314.7 126.6 314.7 126.0 314.8 125.3 314.9 124.6 315.0 123.9 315.0 123.3 315.1 122.8M316.8 116.9 317.2 115.4M317.2 115.4 317.6 116.8M319.2 122.7 319.2 123.3 319.3 124.0 319.4 124.7 319.4 125.3 319.5 126.0 319.6 126.7 319.6 127.4 319.7 128.1 319.8 128.8 319.8 129.5 319.9 130.2 320.0 130.9 320.0 131.5 320.1 132.2 320.2 132.9 320.3 133.6 320.3 134.2 320.4 134.6M321.4 140.5 321.5 141.2 321.5 141.8 321.6 142.5 321.7 143.2 321.7 143.5M322.3 149.5 322.3 150.2 322.3 150.8 322.4 151.4 322.4 152.1 322.5 152.8 322.5 153.5 322.6 154.2 322.6 154.8 322.7 155.4 322.7 156.1 322.7 156.7 322.8 157.3 322.8 158.0 322.8 158.6 322.9 159.3 322.9 159.9 323.0 160.6 323.0 161.3 323.0 161.5M323.4 167.5 323.4 168.2 323.5 168.8 323.5 169.0M323.5 169.0 323.5 169.6 323.6 170.2 323.6 170.5M324.0 176.7 324.1 177.4 324.1 178.0 324.1 178.7 324.2 179.3 324.2 179.9 324.3 180.5 324.3 181.2 324.3 181.8 324.4 182.4 324.4 183.0 324.5 183.6 324.5 184.3 324.6 185.1 324.6 185.8 324.7 186.5 324.7 187.2 324.8 187.9 324.8 188.6 324.9 189.0M325.3 195.1 325.4 195.8 325.4 196.4 325.5 196.6M325.5 196.6 325.5 197.4 325.6 198.1 325.6 198.1M326.1 204.0 326.2 204.7 326.3 205.3 326.4 206.0 326.4 206.7 326.5 207.3 326.6 207.9 326.7 208.6 326.8 209.2 326.9 209.9 327.0 210.6 327.1 211.3 327.1 212.0 327.2 212.7 327.3 213.4 327.3 214.2 327.4 214.8 327.4 215.5 327.5 215.7M327.8 221.7 327.8 222.3 327.8 222.9 327.9 223.5 327.9 224.1 327.9 224.6M328.2 230.5 328.3 231.2 328.3 231.9 328.3 232.5 328.4 233.2 328.4 233.8 328.5 234.4 328.5 235.0 328.5 235.6 328.6 236.3 328.6 236.9 328.7 237.5 328.7 238.1 328.8 238.7 328.8 239.3 328.9 239.9 328.9 240.5 329.0 241.1 329.1 241.7 329.1 242.3M329.7 248.2 329.8 248.9 329.8 249.5 329.9 250.1 330.0 250.7 330.0 251.1M330.7 257.0 330.7 257.7 330.8 258.3 330.9 259.0 330.9 259.6 331.0 260.2 331.1 260.8 331.1 261.4 331.2 262.0 331.2 262.6 331.3 263.3 331.4 264.1 331.5 264.8 331.6 265.6 331.6 266.3 331.7 267.0 331.8 267.7 331.9 268.5 331.9 268.7M332.6 274.6 332.7 275.3 332.8 275.9 332.8 276.0M332.8 276.0 332.9 276.8 333.0 277.5 333.0 277.6M333.9 284.0 333.9 284.7 334.0 285.3 334.1 286.0 334.2 286.6 334.3 287.3 334.4 287.9 334.5 288.5 334.6 289.2 334.7 289.8 334.8 290.4 334.9 291.1 335.0 291.8 335.1 292.5 335.2 293.2 335.3 293.9 335.4 294.5 335.5 295.1 335.6 295.8 335.8 296.6 335.8 296.7M337.4 303.0 337.5 303.6 337.7 304.2 337.8 304.5M337.8 304.5 338.0 305.1 338.1 305.7 338.2 306.0M339.9 311.8 340.1 312.4 340.4 313.0 340.7 313.7 340.9 314.3 341.2 314.8 341.4 315.4 341.7 316.0 342.0 316.6 342.3 317.2 342.5 317.8 342.8 318.4 343.1 318.9 343.4 319.5 343.7 320.0 344.0 320.6 344.4 321.2 344.7 321.8 345.1 322.3 345.3 322.6M349.8 326.7 350.4 327.1 350.9 327.4 351.0 327.5M351.0 327.5 351.6 327.9 352.2 328.3 352.2 328.3M357.2 331.1 357.9 331.4 358.5 331.6 359.2 331.9 359.8 332.1 360.5 332.3 361.2 332.5 361.9 332.6 362.6 332.8 363.3 333.0 363.9 333.1 364.5 333.3 365.1 333.4 365.7 333.5 366.3 333.6 367.0 333.7 367.6 333.8 368.2 333.9 368.3 333.9M374.1 334.5 374.8 334.5 375.4 334.5 375.5 334.5M375.5 334.5 376.2 334.6 376.8 334.6 377.1 334.6M383.4 334.8 384.1 334.8 384.7 334.9 385.4 334.9 386.1 335.0 386.7 335.0 387.3 335.1 387.9 335.1 388.5 335.2 389.2 335.3 389.8 335.3 390.5 335.4 391.2 335.5 391.9 335.6 392.5 335.6 393.3 335.7 394.1 335.8 394.7 335.8 395.4 335.9 395.7 335.9M402.0 336.5 402.7 336.6 403.4 336.6 404.0 336.7 404.6 336.7 405.1 336.8M411.3 337.3 412.0 337.4 412.7 337.4 413.3 337.5 413.9 337.5 414.6 337.6 415.2 337.6 415.8 337.7 416.4 337.7 417.0 337.8 417.8 337.8 418.5 337.9 419.2 337.9 419.9 338.0 420.5 338.0 421.2 338.1 421.9 338.1 422.6 338.2 423.4 338.2 423.7 338.3M430.0 338.7 430.7 338.7 431.4 338.8 431.5 338.8M431.5 338.8 432.2 338.8 432.8 338.8 433.0 338.8"/>
</g>
</svg>
</body></html>
